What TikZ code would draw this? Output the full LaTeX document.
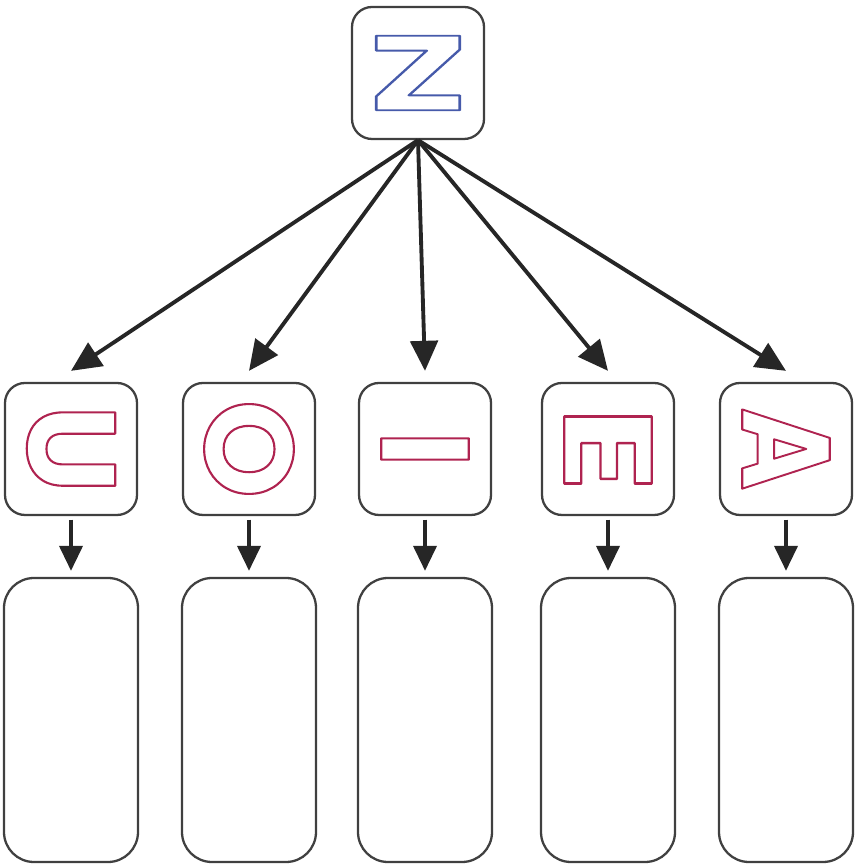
\documentclass[tikz,border=0pt]{standalone}
\usepackage{fontspec}
\usetikzlibrary{arrows.meta}
\newfontfamily\glyphfont{Poppins}
\definecolor{letred}{RGB}{175,35,80}
\definecolor{zblue}{RGB}{70,90,170}
\newcommand\hollow[1]{\special{pdf:literal direct 1 Tr 1.2 w 1 j}#1\special{pdf:literal direct 0 Tr}}
\tikzset{
  box/.style={draw=black!75, line width=1.3pt, rounded corners=0.4cm,
    minimum width=2.64cm, minimum height=2.64cm},
  tallbox/.style={draw=black!75, line width=1.3pt, rounded corners=0.6cm,
    minimum width=2.68cm, minimum height=5.68cm},
  glyph/.style={font=\glyphfont\bfseries\fontsize{71}{71}\selectfont, text=letred, inner sep=0pt},
  bigarrow/.style={-{Triangle[length=0.6cm,width=0.55cm]}, line width=2.2pt, black!85},
  smallarrow/.style={-{Triangle[length=0.5cm,width=0.46cm]}, line width=2.2pt, black!85}
}
\begin{document}
\begin{tikzpicture}
  \useasboundingbox (0,0) rectangle (17.22,17.32);
  \node[box] (z) at (8.36,15.86) {};
  \node[glyph, text=zblue, xscale=1.35, yscale=0.85] (z-t) at (z) {\hollow{Z}};
  \foreach \n/\l/\x/\s in {u/U/1.42/1, o/O/4.98/1, i/I/8.5/1, e/E/12.16/1.25, a/A/15.72/0.9}
    {\node[box] (\n) at (\x,8.34) {};
     \node[glyph, rotate=-90, xscale=\s] (\n-t) at (\n) {\hollow{\l}};
     \node[tallbox] (\n-b) at (\x,2.92) {};
     \draw[bigarrow] (z.south) -- ([yshift=0.22cm]\n.north);
     \draw[smallarrow, shorten <=2pt, shorten >=0.12cm] (\n.south) -- (\n-b.north);}
\end{tikzpicture}
\end{document}
